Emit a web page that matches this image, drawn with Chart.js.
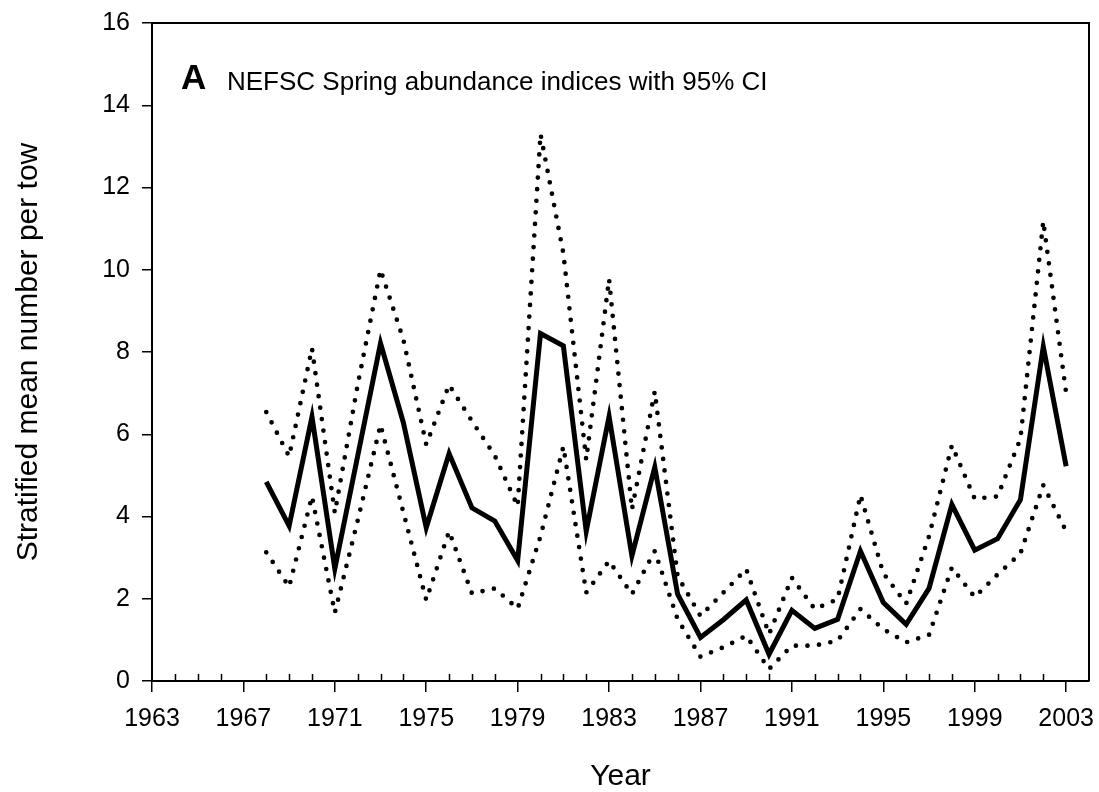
<!DOCTYPE html>
<html>
<head>
<meta charset="utf-8">
<script src="https://cdn.jsdelivr.net/npm/chart.js@4/dist/chart.umd.min.js"></script>
<style>
  html, body { margin: 0; padding: 0; background: #fff; }
  #wrap { width: 1099px; height: 792px; position: relative; }
</style>
</head>
<body>
<div id="wrap"><canvas id="c" width="1099" height="792"></canvas></div>
<script>
const years = [1968,1969,1970,1971,1972,1973,1974,1975,1976,1977,1978,1979,1980,1981,1982,1983,1984,1985,
               1986,1987,1988,1989,1990,1991,1992,1993,1994,1995,1996,1997,1998,1999,2000,2001,2002,2003];
const meanIndex = [4.84,3.77,6.42,2.73,5.47,8.21,6.28,3.73,5.53,4.21,3.89,2.93,8.45,8.15,3.64,6.43,3.04,5.20,
                   2.11,1.06,1.49,1.97,0.65,1.72,1.28,1.50,3.16,1.91,1.38,2.25,4.29,3.18,3.46,4.41,8.13,5.22];
const upperCI = [6.54,5.46,8.09,4.09,7.20,10.00,8.30,5.75,7.20,6.32,5.48,4.25,13.30,10.40,5.38,9.77,4.17,7.04,
                 2.55,1.58,2.15,2.72,1.14,2.51,1.75,1.99,4.52,2.62,1.88,3.52,5.73,4.43,4.49,5.89,11.18,7.00];
const lowerCI = [3.13,2.29,4.49,1.66,3.90,6.23,4.10,1.97,3.64,2.13,2.25,1.76,3.52,5.70,2.15,2.92,2.11,3.16,
                 1.50,0.59,0.82,1.10,0.29,0.86,0.86,0.98,1.75,1.26,0.94,1.12,2.76,2.04,2.59,3.10,4.76,3.64];
const xTickYears = [1963,1967,1971,1975,1979,1983,1987,1991,1995,1999,2003];
const minorYears = [];
for (let y = 1964; y <= 2003; y++) if (!xTickYears.includes(y)) minorYears.push(y);
const yTicks = [0,2,4,6,8,10,12,14,16];
const panelLetter = 'A';
const panelText = 'NEFSC Spring abundance indices with 95% CI';
const xTitle = 'Year';
const yTitle = 'Stratified mean number per tow';

const FONT = "'Liberation Sans', Arial, Helvetica, sans-serif";
const toPts = arr => years.map((yr, i) => ({x: yr, y: arr[i]}));

const framePlugin = {
  id: 'frame',
  afterDraw(chart) {
    const {ctx, chartArea: a, scales} = chart;
    ctx.save();
    ctx.strokeStyle = '#000';
    ctx.lineWidth = 2;
    ctx.beginPath();
    ctx.moveTo(a.left, a.top);
    ctx.lineTo(a.right, a.top);
    ctx.lineTo(a.right, a.bottom);
    ctx.stroke();
    // minor inward ticks on x axis
    ctx.lineWidth = 1.5;
    ctx.beginPath();
    minorYears.forEach(yr => {
      const px = Math.round(scales.x.getPixelForValue(yr)) + 0.5;
      ctx.moveTo(px, a.bottom);
      ctx.lineTo(px, a.bottom - 7);
    });
    ctx.stroke();
    // panel label
    ctx.fillStyle = '#000';
    ctx.textBaseline = 'alphabetic';
    ctx.textAlign = 'left';
    ctx.font = "bold 35px " + FONT;
    ctx.fillText(panelLetter, a.left + 29, a.top + 66);
    ctx.font = "26px " + FONT;
    ctx.fillText(panelText, a.left + 75, a.top + 67);
    ctx.restore();
  }
};

new Chart(document.getElementById('c'), {
  type: 'line',
  data: {
    datasets: [
      { label: 'Mean', data: toPts(meanIndex), borderColor: '#000', borderWidth: 5,
        pointRadius: 0, tension: 0, borderJoinStyle: 'miter', order: 0 },
      { label: 'Upper 95% CI', data: toPts(upperCI), borderColor: '#000', borderWidth: 4.7,
        borderDash: [0, 11.6], borderCapStyle: 'round', pointRadius: 0, tension: 0, order: 1 },
      { label: 'Lower 95% CI', data: toPts(lowerCI), borderColor: '#000', borderWidth: 4.7,
        borderDash: [0, 11.6], borderCapStyle: 'round', pointRadius: 0, tension: 0, order: 2 }
    ]
  },
  options: {
    responsive: false,
    animation: false,
    devicePixelRatio: 1,
    layout: { padding: { left: 0, right: 10, top: 23, bottom: 0 } },
    plugins: { legend: { display: false }, tooltip: { enabled: false }, title: { display: false } },
    scales: {
      x: {
        type: 'linear', min: 1963, max: 2004,
        afterBuildTicks: s => { s.ticks = xTickYears.map(v => ({value: v})); },
        afterFit: s => { s.height = 111; s.paddingLeft = 0; s.paddingRight = 0; },
        ticks: { color: '#000', font: { family: FONT, size: 25 }, padding: 12, maxRotation: 0,
                 callback: v => String(v) },
        grid: { drawOnChartArea: false, tickLength: 11, color: '#000', lineWidth: 1.5 },
        border: { display: true, color: '#000', width: 2 },
        title: { display: true, text: xTitle, color: '#000', font: { family: FONT, size: 30, lineHeight: 1.0 },
                 padding: { top: 0, bottom: 0 } }
      },
      y: {
        type: 'linear', min: 0, max: 16,
        afterBuildTicks: s => { s.ticks = yTicks.map(v => ({value: v})); },
        afterFit: s => { s.width = 152; s.paddingTop = 0; s.paddingBottom = 0; },
        ticks: { color: '#000', font: { family: FONT, size: 25 }, padding: 12 },
        grid: { drawOnChartArea: false, tickLength: 10, color: '#000', lineWidth: 1.5 },
        border: { display: true, color: '#000', width: 2 },
        title: { display: true, text: yTitle, color: '#000', font: { family: FONT, size: 30 },
                 padding: { top: 11, bottom: 0 } }
      }
    }
  },
  plugins: [framePlugin]
});
</script>
</body>
</html>
